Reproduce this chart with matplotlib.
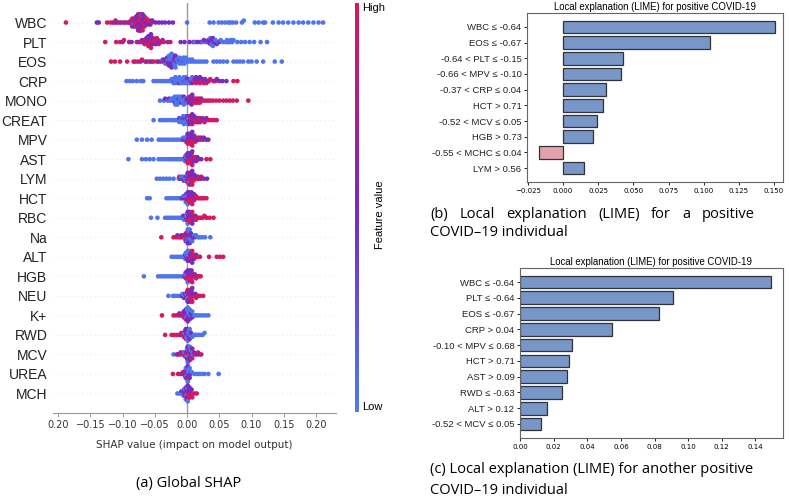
import numpy as np
import matplotlib.pyplot as plt
from matplotlib.colors import LinearSegmentedColormap

# SHAP summary: feature names, top to bottom
features = ["WBC", "PLT", "EOS", "CRP", "MONO", "CREAT", "MPV", "AST", "LYM", "HCT",
            "RBC", "Na", "ALT", "HGB", "NEU", "K+", "RWD", "MCV", "UREA", "MCH"]

shap_wbc = dict(
    hi=[-0.188, -0.124, -0.119, -0.115, -0.111, -0.105, -0.098, -0.092, -0.088, -0.086, -0.085, -0.083,
        -0.082, -0.081, -0.080, -0.079, -0.078, -0.077, -0.077, -0.076, -0.076, -0.075, -0.075, -0.074,
        -0.074, -0.073, -0.073, -0.072, -0.072, -0.071, -0.070, -0.069, -0.068, -0.067, -0.066, -0.064,
        -0.063, -0.061, -0.058, -0.055],
    mid=[-0.140, -0.137, -0.112, -0.108, -0.102, -0.096, -0.090, -0.087, -0.085, -0.084, -0.082, -0.081,
         -0.080, -0.079, -0.078, -0.077, -0.077, -0.076, -0.076, -0.075, -0.075, -0.074, -0.074, -0.073,
         -0.072, -0.071, -0.070, -0.069, -0.068, -0.067, -0.066, -0.065, -0.064, -0.062, -0.060, -0.059,
         -0.057, -0.054, -0.049, -0.044, -0.039, -0.034, -0.028, -0.022],
    lo=[-0.083, -0.070, 0.000, 0.035, 0.041, 0.049, 0.054, 0.059, 0.064, 0.067, 0.071, 0.076, 0.085, 0.088,
        0.105, 0.111, 0.118, 0.121, 0.133, 0.142, 0.149, 0.157, 0.165, 0.173, 0.180, 0.188, 0.196,
        0.204, 0.211])
shap_plt = dict(
    hi=[-0.127, -0.110, -0.104, -0.098, -0.090, -0.078, -0.072, -0.068, -0.066, -0.064, -0.063, -0.062,
        -0.061, -0.060, -0.059, -0.058, -0.057, -0.056, -0.055, -0.054, -0.052, -0.051, -0.049, -0.048,
        -0.047, -0.045, -0.044, -0.040, -0.036, -0.026],
    mid=[-0.100, -0.086, -0.075, -0.070, -0.066, -0.065, -0.063, -0.062, -0.061, -0.060, -0.059, -0.058,
         -0.057, -0.056, -0.054, -0.053, -0.050, -0.048, -0.046, -0.042, -0.038, -0.030, -0.010, -0.004,
         0.004, 0.010, 0.016, 0.021, 0.026, 0.030, 0.033, 0.034, 0.035, 0.036, 0.037, 0.038, 0.040, 0.042,
         0.044, 0.046, 0.050],
    lo=[0.012, 0.024, 0.032, 0.036, 0.038, 0.040, 0.044, 0.048, 0.052, 0.056, 0.060, 0.062, 0.064, 0.066,
        0.068, 0.070, 0.072, 0.078, 0.084, 0.090, 0.097, 0.104, 0.114, 0.124])
shap_eos = dict(
    hi=[-0.118, -0.112, -0.104, -0.093, -0.083, -0.080, -0.076, -0.070, -0.065, -0.058, -0.052, -0.047,
        -0.036, -0.028, -0.020],
    mid=[-0.072, -0.062, -0.055, -0.044, -0.040, -0.036, -0.033, -0.032, -0.031, -0.030, -0.029, -0.028,
         -0.027, -0.026, -0.025, -0.024, -0.023, -0.022, -0.021, -0.020, -0.019, -0.018, -0.016, -0.012,
         -0.008, -0.004],
    lo=[-0.038, -0.034, -0.032, -0.030, -0.028, -0.027, -0.026, -0.025, -0.024, -0.023, -0.022, -0.021,
        -0.020, -0.019, -0.018, -0.016, -0.014, -0.012, -0.012, -0.010, -0.008, -0.008, -0.006, -0.004,
        -0.004, -0.002, 0.000, 0.002, 0.004, 0.006, 0.008, 0.010, 0.014, 0.018, 0.022, 0.026, 0.030,
        0.041, 0.046, 0.051, 0.056, 0.062, 0.072, 0.077, 0.082, 0.087, 0.095, 0.100, 0.108, 0.118, 0.136,
        0.147])
shap_crp = dict(
    hi=[0.010, 0.012, 0.014, 0.016, 0.018, 0.020, 0.022, 0.024, 0.026, 0.028, 0.030, 0.034, 0.036, 0.044,
        0.072, 0.078],
    mid=[-0.020, -0.012, -0.004, 0.000, 0.004, 0.006, 0.008, 0.012, 0.014, 0.016, 0.018, 0.020, 0.024,
         0.028, 0.032, 0.041, 0.046, 0.050, 0.055, 0.061],
    lo=[-0.094, -0.089, -0.084, -0.078, -0.072, -0.068, -0.052, -0.048, -0.044, -0.040, -0.036, -0.032,
        -0.029, -0.026, -0.024, -0.023, -0.022, -0.021, -0.020, -0.019, -0.018, -0.017, -0.016, -0.015,
        -0.014, -0.013, -0.012, -0.011, -0.010, -0.009, -0.008, -0.007, -0.006, -0.005, -0.004, -0.003,
        -0.002, -0.001, 0.000, 0.002, 0.004, 0.006, 0.008, 0.010])
shap_mono = dict(
    hi=[0.003, 0.005, 0.007, 0.009, 0.011, 0.013, 0.014, 0.016, 0.017, 0.019, 0.020, 0.022, 0.024, 0.028,
        0.032, 0.036, 0.040, 0.045, 0.050, 0.056, 0.061, 0.066, 0.071, 0.077, 0.095],
    mid=[-0.034, -0.028, -0.019, -0.013, -0.009, -0.005, -0.001, 0.000, 0.002, 0.003, 0.004, 0.005, 0.006,
         0.007, 0.008, 0.010, 0.012, 0.015, 0.018, 0.022],
    lo=[-0.042, -0.036, -0.030, -0.026, -0.024, -0.022, -0.022, -0.020, -0.020, -0.019, -0.018, -0.017,
        -0.016, -0.016, -0.015, -0.015, -0.014, -0.013, -0.012, -0.011, -0.010, -0.009, -0.008, -0.007,
        -0.006, -0.005, -0.004, -0.003, -0.002, 0.000])
shap_creat = dict(
    hi=[0.004, 0.006, 0.008, 0.010, 0.012, 0.014, 0.015, 0.017, 0.018, 0.020, 0.021, 0.024, 0.027, 0.030,
        0.034, 0.038, 0.042, 0.046],
    mid=[-0.012, -0.007, -0.003, 0.000, 0.001, 0.002, 0.003, 0.004, 0.005, 0.006, 0.007, 0.008, 0.009,
         0.010, 0.011, 0.013, 0.016, 0.020, 0.024, 0.030],
    lo=[-0.052, -0.042, -0.038, -0.034, -0.030, -0.026, -0.022, -0.019, -0.016, -0.013, -0.012, -0.010,
        -0.009, -0.008, -0.007, -0.006, -0.005, -0.004, -0.003, -0.002, -0.001, 0.000, 0.001, 0.002])
shap_mpv = dict(
    hi=[-0.006, 0.001, 0.002, 0.003, 0.004, 0.005, 0.006, 0.007, 0.008, 0.009, 0.010, 0.012, 0.013,
        0.016, 0.019, 0.022, 0.025],
    mid=[-0.004, -0.001, 0.000, 0.001, 0.002, 0.003, 0.004, 0.005, 0.006, 0.007, 0.008, 0.009, 0.011,
         0.012, 0.015, 0.018, 0.022, 0.026, 0.030, 0.033],
    lo=[-0.078, -0.070, -0.062, -0.055, -0.044, -0.040, -0.036, -0.032, -0.028, -0.024, -0.020, -0.016,
        -0.012, -0.009, -0.006, -0.003, -0.002, -0.001, 0.000])
shap_ast = dict(
    hi=[0.000, 0.001, 0.002, 0.003, 0.004, 0.005, 0.006, 0.007, 0.008, 0.010, 0.013, 0.016, 0.030, 0.036],
    mid=[-0.003, -0.001, 0.000, 0.001, 0.002, 0.003, 0.004, 0.005, 0.006, 0.007, 0.008, 0.009, 0.010,
         0.012, 0.014, 0.016, 0.018, 0.022],
    lo=[-0.091, -0.070, -0.064, -0.058, -0.052, -0.044, -0.040, -0.036, -0.032, -0.028, -0.025, -0.022,
        -0.019, -0.016, -0.013, -0.010, -0.007, -0.004, -0.003, -0.002, -0.001])
shap_lym = dict(
    hi=[-0.012, -0.006, 0.000, 0.001, 0.002, 0.003, 0.004, 0.005, 0.006, 0.007, 0.008, 0.009, 0.010,
        0.012, 0.015, 0.018, 0.022],
    mid=[-0.010, -0.005, -0.002, 0.000, 0.001, 0.002, 0.003, 0.004, 0.005, 0.006, 0.007, 0.008, 0.009,
         0.011, 0.014, 0.017, 0.021, 0.026, 0.031],
    lo=[-0.047, -0.042, -0.037, -0.032, -0.027, -0.021, -0.013, -0.009, -0.006, -0.003, -0.002, -0.001,
        0.000, 0.003])
shap_hct = dict(
    hi=[-0.002, 0.001, 0.002, 0.003, 0.004, 0.005, 0.006, 0.007, 0.008, 0.009, 0.011, 0.014, 0.017,
        0.020, 0.023, 0.026, 0.030],
    mid=[-0.008, -0.004, -0.002, -0.001, 0.000, 0.001, 0.002, 0.003, 0.004, 0.005, 0.006, 0.007, 0.009,
         0.011, 0.013],
    lo=[-0.062, -0.058, -0.032, -0.028, -0.024, -0.020, -0.016, -0.012, -0.009, -0.006, -0.003, -0.002,
        -0.001, 0.000, 0.001])
shap_rbc = dict(
    hi=[0.001, 0.002, 0.003, 0.004, 0.005, 0.006, 0.007, 0.008, 0.009, 0.010, 0.012, 0.014, 0.015, 0.018,
        0.021, 0.024, 0.027, 0.030, 0.035, 0.041],
    mid=[-0.006, -0.003, -0.001, 0.000, 0.001, 0.002, 0.003, 0.004, 0.005, 0.006, 0.008, 0.010, 0.013],
    lo=[-0.056, -0.046, -0.034, -0.030, -0.026, -0.022, -0.018, -0.014, -0.011, -0.008, -0.005, -0.004,
        -0.002, -0.001, 0.000, 0.001])
shap_na = dict(
    hi=[-0.040, -0.021, -0.017, -0.013, -0.010, -0.007, -0.004, -0.002, -0.001, 0.000, 0.001, 0.002,
        0.003, 0.005],
    mid=[-0.015, -0.009, -0.005, -0.003, -0.002, -0.001, 0.000, 0.001, 0.002, 0.003, 0.004, 0.005, 0.006,
         0.009, 0.012],
    lo=[-0.003, 0.000, 0.001, 0.002, 0.003, 0.004, 0.005, 0.008, 0.011, 0.014, 0.017, 0.020, 0.024,
        0.028, 0.036])
shap_alt = dict(
    hi=[0.005, 0.006, 0.008, 0.009, 0.011, 0.014, 0.017, 0.020, 0.034, 0.046, 0.051, 0.056],
    mid=[-0.003, -0.001, 0.000, 0.001, 0.002, 0.003, 0.004, 0.005, 0.006, 0.007, 0.008, 0.011, 0.014],
    lo=[-0.024, -0.020, -0.016, -0.012, -0.009, -0.006, -0.004, -0.003, -0.002, -0.001, 0.000, 0.001,
        0.002, 0.003, 0.004])
shap_hgb = dict(
    hi=[-0.002, 0.000, 0.001, 0.002, 0.003, 0.004, 0.005, 0.006, 0.007, 0.008, 0.010, 0.012, 0.014, 0.016,
        0.018, 0.021],
    mid=[-0.004, -0.002, -0.001, 0.000, 0.001, 0.002, 0.003, 0.004, 0.005, 0.006, 0.007, 0.009, 0.012],
    lo=[-0.067, -0.045, -0.041, -0.037, -0.033, -0.029, -0.025, -0.021, -0.017, -0.013, -0.009, -0.006,
        -0.003, -0.001, 0.001])
shap_neu = dict(
    hi=[-0.003, 0.000, 0.001, 0.002, 0.003, 0.004, 0.005, 0.006, 0.007, 0.008, 0.010, 0.012, 0.014,
        0.017, 0.020, 0.025],
    mid=[-0.008, -0.005, -0.002, -0.001, 0.000, 0.001, 0.002, 0.003, 0.004, 0.005, 0.006, 0.007, 0.008,
         0.010, 0.013],
    lo=[-0.029, -0.022, -0.018, -0.014, -0.010, -0.007, -0.004, -0.001, 0.000, 0.002])
shap_k = dict(
    hi=[-0.039, -0.021, -0.017, -0.013, -0.010, -0.007, -0.005, -0.004, -0.003, -0.002, -0.001, 0.000],
    mid=[-0.012, -0.008, -0.005, -0.004, -0.003, -0.002, -0.001, 0.000, 0.001, 0.002, 0.003, 0.004,
         0.006, 0.008],
    lo=[-0.001, 0.000, 0.001, 0.002, 0.003, 0.004, 0.005, 0.008, 0.011, 0.014, 0.017, 0.021, 0.025,
        0.029, 0.033])
shap_rwd = dict(
    hi=[-0.034, -0.024, -0.020, -0.016, -0.012, -0.009, -0.006, -0.005, -0.003, -0.002, -0.001],
    mid=[-0.010, -0.006, -0.004, -0.003, -0.002, -0.001, 0.000, 0.001, 0.002, 0.003, 0.004, 0.006],
    lo=[-0.004, -0.001, 0.000, 0.001, 0.002, 0.003, 0.004, 0.005, 0.008, 0.011, 0.014, 0.017, 0.020,
        0.024, 0.027])
shap_mcv = dict(
    hi=[-0.016, -0.011, -0.007, -0.004, -0.001, 0.000, 0.001, 0.002, 0.003, 0.004, 0.005, 0.008, 0.012,
        0.017, 0.022],
    mid=[-0.014, -0.010, -0.006, -0.003, -0.001, 0.000, 0.001, 0.002, 0.003, 0.004, 0.005, 0.006, 0.008,
         0.011, 0.015, 0.019],
    lo=[-0.021, -0.004, -0.001, 0.000, 0.001, 0.002, 0.004, 0.006, 0.009])
shap_urea = dict(
    hi=[-0.022, -0.014, -0.010, -0.006, -0.003, -0.002, -0.001, 0.000, 0.001],
    mid=[-0.008, -0.004, -0.003, -0.002, -0.001, 0.000, 0.001, 0.002, 0.003, 0.004, 0.005],
    lo=[-0.002, -0.001, 0.000, 0.001, 0.002, 0.003, 0.004, 0.007, 0.011, 0.015, 0.019, 0.023, 0.027,
        0.033, 0.049])
shap_mch = dict(
    hi=[-0.004, -0.002, -0.001, 0.000, 0.001, 0.002, 0.003, 0.004, 0.005, 0.006, 0.008, 0.011, 0.015],
    mid=[-0.009, -0.006, -0.004, -0.003, -0.002, -0.001, 0.000, 0.001, 0.002, 0.003, 0.004, 0.005,
         0.007],
    lo=[-0.015, -0.011, -0.008, -0.006, -0.005, -0.003, -0.002, -0.001, 0.000, 0.001])

shap_rows = [shap_wbc, shap_plt, shap_eos, shap_crp, shap_mono, shap_creat, shap_mpv, shap_ast,
             shap_lym, shap_hct, shap_rbc, shap_na, shap_alt, shap_hgb, shap_neu, shap_k, shap_rwd,
             shap_mcv, shap_urea, shap_mch]
level_color = dict(hi=0.95, mid=0.5, lo=0.05)
shap_ticks = [-0.20, -0.15, -0.10, -0.05, 0.00, 0.05, 0.10, 0.15, 0.20]
shap_tick_labels = ["0.20", "\u22120.15", "\u22120.10", "\u22120.05", "0.00", "0.05", "0.10", "0.15", "0.20"]

# LIME explanations
lime_b_labels = ["WBC \u2264 -0.64", "EOS \u2264 -0.67", "-0.64 < PLT \u2264 -0.15", "-0.66 < MPV \u2264 -0.10",
                 "-0.37 < CRP \u2264 0.04", "HCT > 0.71", "-0.52 < MCV \u2264 0.05", "HGB > 0.73",
                 "-0.55 < MCHC \u2264 0.04", "LYM > 0.56"]
lime_b_vals = [0.151, 0.1048, 0.0424, 0.0412, 0.0303, 0.0286, 0.0239, 0.0211, -0.0170, 0.0147]
lime_c_labels = ["WBC \u2264 -0.64", "PLT \u2264 -0.64", "EOS \u2264 -0.67", "CRP > 0.04", "-0.10 < MPV \u2264 0.68",
                 "HCT > 0.71", "AST > 0.09", "RWD \u2264 -0.63", "ALT > 0.12", "-0.52 < MCV \u2264 0.05"]
lime_c_vals = [0.1495, 0.0911, 0.0828, 0.0545, 0.0309, 0.0293, 0.0279, 0.0248, 0.0162, 0.0125]

W, H = 789, 503
sans = ["Liberation Sans", "DejaVu Sans"]
cap_font = ["Open Sans", "DejaVu Sans"]
cap_size = 10.5
cmap = LinearSegmentedColormap.from_list("shap", ["#4c7cf3", "#7a2bbd", "#dd1758"])


def px(x0, y0, x1, y1):
    # pixel box (top-left origin) -> figure fraction rect
    return [x0 / W, 1 - y1 / H, (x1 - x0) / W, (y1 - y0) / H]


def swarm(x, bin_w=0.0032, step=0.1):
    q = np.round(np.asarray(x) / bin_w)
    order = np.argsort(q, kind="stable")
    ys = np.zeros(len(x))
    layer, last = 0, None
    for i in order:
        if q[i] != last:
            layer = 0
        ys[i] = np.ceil(layer / 2) * ((layer % 2) * 2 - 1) * step
        layer += 1
        last = q[i]
    return np.clip(ys, -0.42, 0.42)


fig = plt.figure(figsize=(W / 100, H / 100), dpi=100)

# ---- (a) SHAP beeswarm
ax = fig.add_axes(px(53, 3, 336, 413))
n = len(features)
for k, row in enumerate(shap_rows):
    ypos = n - 1 - k
    xs = np.concatenate([row["hi"], row["mid"], row["lo"]])
    cs = np.concatenate([[level_color[l]] * len(row[l]) for l in ("hi", "mid", "lo")])
    srt = np.argsort(xs, kind="stable")
    xs, cs = xs[srt], cs[srt]
    ax.axhline(ypos, color="#cccccc", lw=0.5, dashes=(1, 5), zorder=-1)
    ax.scatter(xs, ypos + swarm(xs), c=cs, cmap=cmap, vmin=0, vmax=1, s=11, lw=0, zorder=3)
ax.axvline(0, color="#999999", lw=1, zorder=2)
ax.set_ylim(-1, n)
ax.set_xlim(-0.208, 0.231)
ax.set_yticks(range(n))
ax.set_yticklabels(features[::-1], fontsize=10, family=sans, color="#222222")
ax.tick_params(axis="y", length=0, pad=4)
ax.set_xticks(shap_ticks)
ax.set_xticklabels(shap_tick_labels, fontsize=7, color="#333333")
ax.tick_params(axis="x", length=3, width=0.6, color="#888888", pad=2)
for s in ("left", "top", "right"):
    ax.spines[s].set_visible(False)
ax.spines["bottom"].set_color("#999999")
ax.set_xlabel("SHAP value (impact on model output)", fontsize=7.5, color="#333333", labelpad=7)

cax = fig.add_axes(px(355, 3, 359, 412))
cax.imshow(np.linspace(1, 0, 256)[:, None], aspect="auto", cmap=cmap, extent=(0, 1, 0, 1))
cax.set_xticks([])
cax.set_yticks([])
for s in cax.spines.values():
    s.set_visible(False)
cax.text(1.8, 1.0, "High", transform=cax.transAxes, ha="left", va="top", fontsize=8, family=sans)
cax.text(1.8, 0.0, "Low", transform=cax.transAxes, ha="left", va="bottom", fontsize=8, family=sans)
fig.text(380 / W, 1 - 215 / H, "Feature value", rotation=90, ha="center", va="center", fontsize=8, family=sans)

fig.text(189 / W, 1 - 483 / H, "(a) Global SHAP", ha="center", va="center", fontsize=cap_size, family=cap_font)


# ---- (b), (c) LIME bar charts
def lime_panel(rect, labels, vals, xlim, title):
    a = fig.add_axes(rect)
    pos = np.arange(len(vals))[::-1]
    colors = ["#7896c8" if v > 0 else "#e3a1ad" for v in vals]
    a.barh(pos, vals, height=0.8, color=colors, edgecolor="#333333", lw=0.9)
    a.set_yticks(pos)
    a.set_yticklabels(labels, fontsize=6.8, family=sans, color="#222222")
    a.set_xlim(*xlim)
    a.tick_params(axis="x", labelsize=5, length=2.5, width=0.6, pad=2)
    a.tick_params(axis="y", length=2.5, width=0.6, pad=1.5)
    for s in a.spines.values():
        s.set_color("#666666")
        s.set_linewidth(0.8)
    a.set_title(title, fontsize=6.9, family=sans, pad=2.5)
    return a


axb = lime_panel(px(527, 13, 783, 182), lime_b_labels, lime_b_vals, (-0.0256, 0.1564),
                 "Local explanation (LIME) for positive COVID-19")
axb.set_xticks([-0.025, 0.0, 0.025, 0.05, 0.075, 0.1, 0.125, 0.15])
axc = lime_panel(px(520, 268, 783, 438), lime_c_labels, lime_c_vals, (0, 0.1564),
                 "Local explanation (LIME) for positive COVID-19")
axc.set_xticks(np.arange(0, 0.141, 0.02))

# captions; first line of (b) is justified to the column width
fig.canvas.draw()
renderer = fig.canvas.get_renderer()


def justified(words, x0, x1, ypx):
    texts = [fig.text(0, 1 - ypx / H, w, ha="left", va="baseline", fontsize=cap_size, family=cap_font)
             for w in words]
    widths = [t.get_window_extent(renderer).width for t in texts]
    gap = (x1 - x0 - sum(widths)) / (len(words) - 1)
    x = x0
    for t, w in zip(texts, widths):
        t.set_x(x / W)
        x += w + gap


justified("(b) Local explanation (LIME) for a positive".split(), 430, 755, 218)
fig.text(430 / W, 1 - 236 / H, "COVID\u201319 individual", ha="left", va="baseline", fontsize=cap_size,
         family=cap_font)
fig.text(430 / W, 1 - 473 / H, "(c) Local explanation (LIME) for another positive", ha="left", va="baseline",
         fontsize=cap_size, family=cap_font)
fig.text(430 / W, 1 - 494 / H, "COVID\u201319 individual", ha="left", va="baseline", fontsize=cap_size,
         family=cap_font)

fig.savefig("out.png", dpi=100)
